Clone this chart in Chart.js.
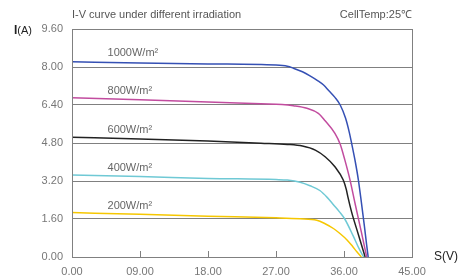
<!DOCTYPE html>
<html><head><meta charset="utf-8">
<script src="https://cdn.jsdelivr.net/npm/chart.js@4.4.1/dist/chart.umd.min.js"></script>
<style>html,body{margin:0;padding:0;background:#fff}#wrap{width:462px;height:279px}</style>
</head><body><div id="wrap"><canvas id="c" width="462" height="279"></canvas></div>
<script>
const xTicks = [0, 9, 18, 27, 36, 45];
const xTickLabels = ["0.00", "09.00", "18.00", "27.00", "36.00", "45.00"];
const yTicks = [0, 1.6, 3.2, 4.8, 6.4, 8.0, 9.6];
const seriesNames = ["1000W/m²", "800W/m²", "600W/m²", "400W/m²", "200W/m²"];
const v1000 = [0, 9, 18, 27.0, 28.5, 29.3, 30.5, 31.5, 32.5, 33.3, 34.0, 34.8, 35.5, 36.2, 36.7, 37.0, 37.5, 37.9, 38.3, 38.7, 39.0, 39.2];
const i1000 = [8.22, 8.17, 8.13, 8.08, 8.03, 7.95, 7.80, 7.63, 7.43, 7.24, 7.00, 6.72, 6.40, 5.85, 5.25, 4.80, 4.00, 3.25, 2.30, 1.30, 0.50, 0];
const v800 = [0, 9, 18, 25, 27.8, 29.3, 31.1, 32.6, 33.5, 34.8, 35.5, 36.1, 36.8, 37.5, 38.3, 39.0];
const i800 = [6.71, 6.62, 6.53, 6.45, 6.42, 6.37, 6.26, 6.05, 5.74, 5.21, 4.75, 4.10, 3.24, 2.20, 1.05, 0];
const v600 = [0, 9, 18, 25, 28.5, 30.5, 32.2, 33.5, 34.8, 35.9, 36.3, 36.5, 37.0, 37.9, 38.8];
const i600 = [5.04, 4.97, 4.88, 4.79, 4.74, 4.67, 4.50, 4.22, 3.80, 3.24, 2.85, 2.55, 1.90, 0.95, 0];
const v400 = [0, 9, 18, 27, 28.5, 30.2, 31.5, 32.8, 33.8, 34.6, 35.4, 36.1, 37.2, 38.0, 38.6];
const i400 = [3.45, 3.39, 3.31, 3.26, 3.24, 3.15, 3.00, 2.80, 2.50, 2.20, 1.90, 1.60, 0.90, 0.35, 0];
const v200 = [0, 9, 18, 27, 30.2, 32.4, 33.5, 34.6, 35.5, 36.4, 37.1, 37.7, 38.3];
const i200 = [1.87, 1.80, 1.72, 1.65, 1.61, 1.55, 1.40, 1.20, 0.98, 0.72, 0.46, 0.22, 0];
const colors = ["#3550b4", "#c24c9f", "#222222", "#6fc9d5", "#f6c700"];
const labelAt = [8.6, 6.98, 5.36, 3.76, 2.13];

const V = [v1000, v800, v600, v400, v200];
const I = [i1000, i800, i600, i400, i200];
const FONT = "'Liberation Sans', Arial, sans-serif";

const decor = {
  id: 'decor',
  afterDraw(chart) {
    const ctx = chart.ctx, a = chart.chartArea, xs = chart.scales.x, ys = chart.scales.y;
    ctx.save();
    ctx.strokeStyle = '#808080'; ctx.lineWidth = 1;
    ctx.strokeRect(Math.round(a.left) + 0.5, Math.round(a.top) + 0.5, Math.round(a.right - a.left), Math.round(a.bottom - a.top));
    ctx.beginPath();
    xTicks.slice(1, -1).forEach(t => {
      const px = Math.round(xs.getPixelForValue(t)) + 0.5;
      ctx.moveTo(px, a.bottom); ctx.lineTo(px, a.bottom - 6);
    });
    ctx.stroke();
    ctx.fillStyle = '#666';
    ctx.font = '11px ' + FONT;
    ctx.textBaseline = 'middle';
    ctx.textAlign = 'left';
    seriesNames.forEach((n, k) => {
      ctx.fillText(n, xs.getPixelForValue(4.7), ys.getPixelForValue(labelAt[k]));
    });
    ctx.fillStyle = '#555';
    ctx.fillText('I-V curve under different irradiation', a.left, 15);
    ctx.textAlign = 'right';
    ctx.fillText('CellTemp:25℃', a.right, 15);
    ctx.textAlign = 'left';
    ctx.fillStyle = '#222';
    ctx.font = 'bold 12px ' + FONT;
    ctx.fillText('I', 14, 31);
    const w = ctx.measureText('I').width;
    ctx.font = '11px ' + FONT;
    ctx.fillText('(A)', 14 + w, 31);
    ctx.font = '12px ' + FONT;
    ctx.fillText('S(V)', 434, 257);
    ctx.restore();
  }
};

new Chart(document.getElementById('c'), {
  type: 'line',
  data: {
    datasets: V.map((vs, k) => ({
      label: seriesNames[k],
      data: vs.map((v, j) => ({x: v, y: I[k][j]})),
      borderColor: colors[k],
      borderWidth: 1.5,
      pointRadius: 0,
      fill: false,
      cubicInterpolationMode: 'monotone'
    }))
  },
  options: {
    responsive: false,
    animation: false,
    events: [],
    layout: {padding: {left: 0, right: 50, top: 29, bottom: 0}},
    plugins: {legend: {display: false}, tooltip: {enabled: false}},
    scales: {
      x: {
        type: 'linear', min: 0, max: 45,
        afterBuildTicks: s => { s.ticks = xTicks.map(v => ({value: v})); },
        afterFit: s => { s.height = 22; },
        grid: {display: false, drawTicks: false},
        border: {display: false},
        ticks: {padding: 8, color: '#777', font: {family: FONT, size: 11},
          callback: (v) => xTickLabels[xTicks.indexOf(v)] ?? ''}
      },
      y: {
        type: 'linear', min: 0, max: 9.6,
        afterBuildTicks: s => { s.ticks = yTicks.map(v => ({value: v})); },
        afterFit: s => { s.width = 72; },
        grid: {color: '#808080', lineWidth: 1, drawTicks: false},
        border: {display: false},
        ticks: {padding: 9, color: '#777', font: {family: FONT, size: 11},
          callback: v => Number(v).toFixed(2)}
      }
    }
  },
  plugins: [decor]
});
</script></body></html>
